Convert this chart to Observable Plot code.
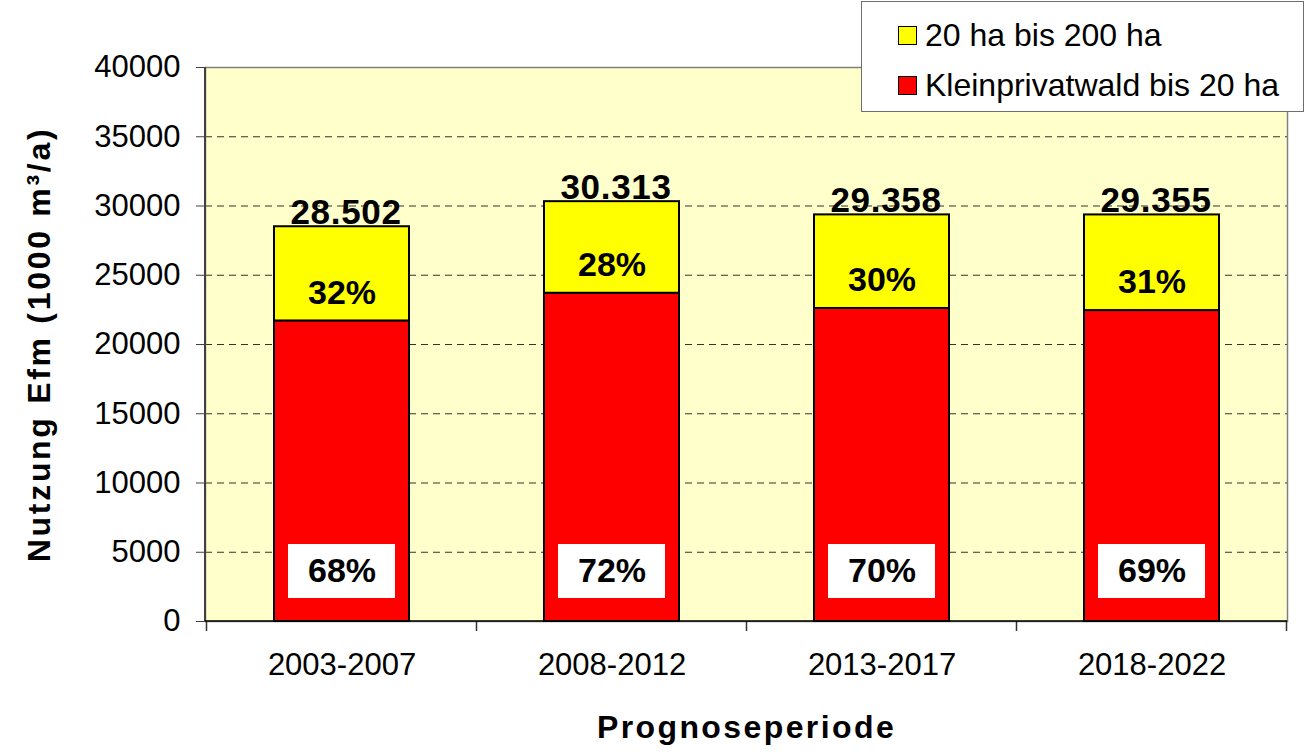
<!DOCTYPE html>
<html><head><meta charset="utf-8">
<script src="https://cdn.jsdelivr.net/npm/d3@7"></script>
<script src="https://cdn.jsdelivr.net/npm/@observablehq/plot@0.6"></script>
<style>
body{margin:0;background:#fff;font-family:"Liberation Sans",Arial,sans-serif;}
#wrap{position:relative;width:1306px;height:753px;overflow:hidden;}
#legend{position:absolute;left:861px;top:1px;width:443px;height:111px;background:#fff;border:1.5px solid #6f6f6f;box-sizing:border-box;}
.item{position:absolute;left:36px;height:40px;display:flex;align-items:center;font-size:32px;color:#000;white-space:nowrap;}
.sw{width:17px;height:17px;border:1.5px solid #000;margin-right:8px;box-sizing:content-box;}
</style></head><body>
<div id="wrap"><div id="chart"></div><div id="legend"></div></div>
<script>
// ---- data ----
const periods = ["2003-2007", "2008-2012", "2013-2017", "2018-2022"];
const totals = [28502, 30313, 29358, 29355];          // total (labelled)
const klein = [21700, 23700, 22600, 22450];           // Kleinprivatwald bis 20 ha
const kleinPct = ["68%", "72%", "70%", "69%"];
const mittelPct = ["32%", "28%", "30%", "31%"];
const yTicks = [0, 5000, 10000, 15000, 20000, 25000, 30000, 35000, 40000];
const seriesNames = ["20 ha bis 200 ha", "Kleinprivatwald bis 20 ha"];
const seriesColors = ["#FFFF00", "#FF0000"];
const xTitle = "Prognoseperiode";
const yTitle = "Nutzung Efm (1000 m³/a)";

const rows = periods.map((p, i) => ({
  period: p, total: totals[i], klein: klein[i], kleinPct: kleinPct[i], mittelPct: mittelPct[i]
}));
const de = d3.formatLocale({decimal: ",", thousands: ".", grouping: [3], currency: ["", "€"]});
const fmtTotal = de.format(",d");

const boundaryMark = (index, scales, values, dims) => {
  const x = scales.x;
  const step = x.step ? x.step() : (x(periods[1]) - x(periods[0]));
  const bw = x.bandwidth ? x.bandwidth() : 0;
  const y0 = dims.height - dims.marginBottom;
  const bounds = periods.map(p => x(p) + bw / 2 - step / 2)
    .concat([x(periods[periods.length - 1]) + bw / 2 + step / 2]);
  const g = d3.create("svg:g");
  g.selectAll("line.t").data(bounds).join("line")
    .attr("x1", d => d).attr("x2", d => d).attr("y1", y0).attr("y2", y0 + 10)
    .attr("stroke", "#333").attr("stroke-width", 1.5);
  g.append("line").attr("x1", dims.marginLeft).attr("x2", dims.marginLeft)
    .attr("y1", dims.marginTop).attr("y2", y0).attr("stroke", "#404040").attr("stroke-width", 2);
  g.append("line").attr("x1", dims.marginLeft).attr("x2", dims.width - dims.marginRight)
    .attr("y1", y0).attr("y2", y0).attr("stroke", "#000").attr("stroke-width", 1.5);
  return g.node();
};

const chart = Plot.plot({
  width: 1306, height: 753,
  marginLeft: 205, marginRight: 19, marginTop: 67, marginBottom: 132,
  style: {fontFamily: "'Liberation Sans', Arial, sans-serif", background: "transparent", color: "#000"},
  x: {domain: periods, paddingInner: 0.5, paddingOuter: 0.25, label: null},
  y: {domain: [0, 40000], label: null},
  marks: [
    Plot.frame({fill: "#FFFFCC"}),
    Plot.gridY(yTicks.filter(v => v > 0 && v < 40000), {stroke: "#000", strokeOpacity: 0.8, strokeDasharray: "7,5", strokeWidth: 1}),
    Plot.frame({stroke: "#808080", strokeWidth: 1.5}),
    Plot.barY(rows, {x: "period", y1: 0, y2: "klein", fill: seriesColors[1], stroke: "#000", strokeWidth: 2}),
    Plot.barY(rows, {x: "period", y1: "klein", y2: "total", fill: seriesColors[0], stroke: "#000", strokeWidth: 2}),
    Plot.cell(rows, {x: "period", fill: "#fff", insetLeft: 14, insetRight: 14, insetTop: 477, insetBottom: 23}),
    Plot.text(rows, {x: "period", text: "kleinPct", frameAnchor: "bottom", lineAnchor: "middle", dy: -50, fontSize: 34, fontWeight: "bold", fill: "#000"}),
    Plot.text(rows, {x: "period", y: "klein", text: "mittelPct", lineAnchor: "middle", dy: -28, fontSize: 34, fontWeight: "bold", fill: "#000"}),
    Plot.text(rows, {x: "period", y: "total", text: d => fmtTotal(d.total), lineAnchor: "bottom", dx: 4, dy: -3, fontSize: 35, fontWeight: "bold", fill: "#000"}),
    Plot.axisY({ticks: yTicks, tickSize: 9, tickPadding: 16, fontSize: 31, tickFormat: d3.format("d"), stroke: "#404040", label: null}),
    Plot.axisX({tickSize: 0, tickPadding: 31, fontSize: 31, label: null}),
    boundaryMark,
    Plot.text([xTitle], {frameAnchor: "bottom", textAnchor: "middle", lineAnchor: "middle", dy: 106, fontSize: 32, fontWeight: "bold", fill: "#000"}),
    Plot.text([yTitle], {frameAnchor: "left", textAnchor: "middle", lineAnchor: "middle", dx: -166, dy: 0, rotate: -90, fontSize: 32, fontWeight: "bold", fill: "#000"})
  ]
});
document.getElementById("chart").appendChild(chart);

// letter spacing for titles and total labels
const spacing = new Map([[xTitle, 2.4], [yTitle, 2.7]]);
totals.forEach(t => spacing.set(fmtTotal(t), 0.7));
d3.select(chart).selectAll("text").each(function () {
  const s = spacing.get(this.textContent);
  if (s != null) this.style.letterSpacing = s + "px";
});

// legend
const legend = d3.select("#legend");
seriesNames.forEach((name, i) => {
  const it = legend.append("div").attr("class", "item").style("top", (13 + i * 50) + "px");
  it.append("div").attr("class", "sw").style("background", seriesColors[i]);
  it.append("span").text(name);
});
</script>
</body></html>
